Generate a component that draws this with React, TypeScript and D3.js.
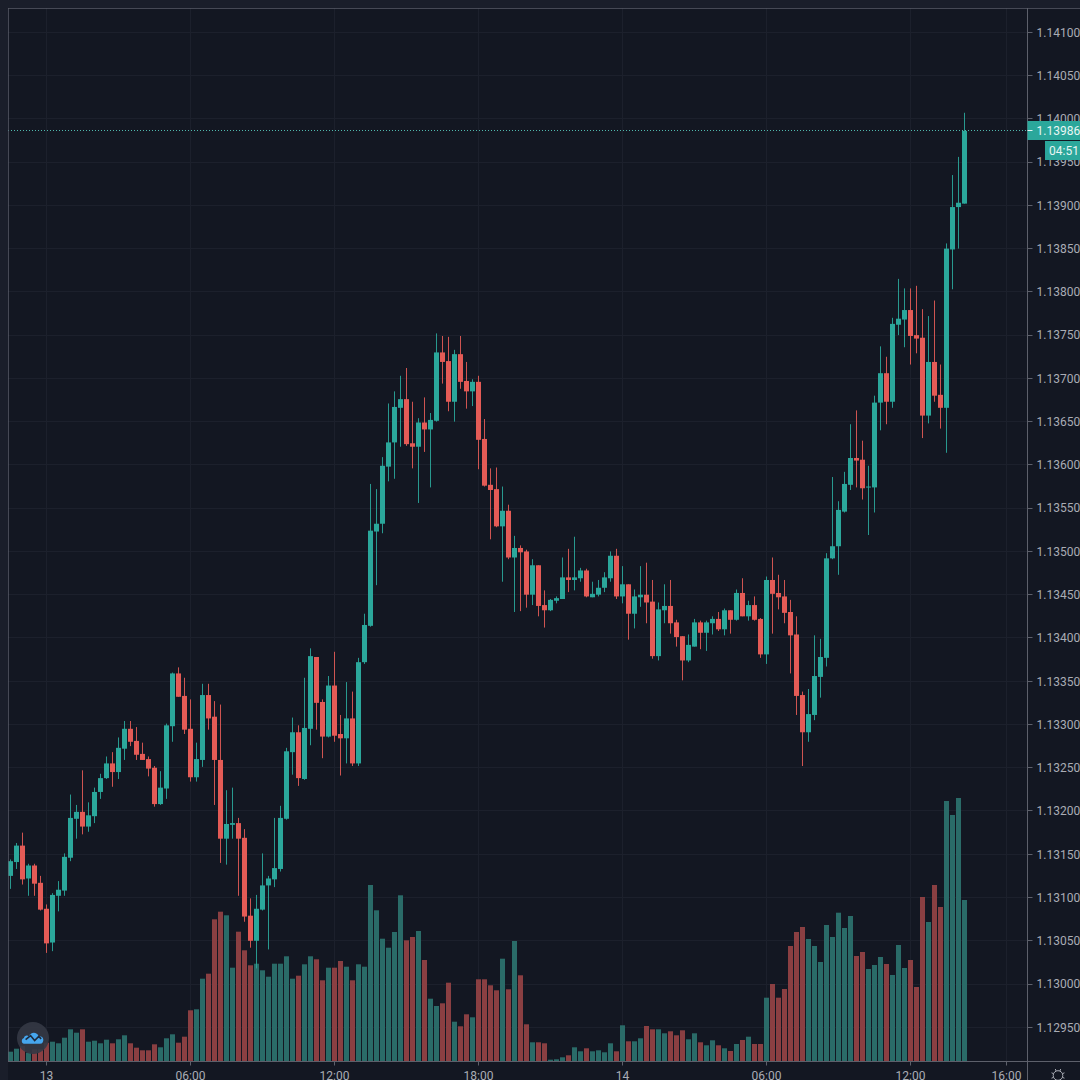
import React from "react";
import * as d3 from "d3";

// Prices are stored as points (0.00001) above this base.
const priceBase = 1.13;
const pointSize = 0.00001;

const opens = [
  125,141,160,122,137,117,87,48,102,108,
  146,191,199,182,194,222,238,255,245,272,
  295,281,266,260,250,208,226,298,359,333,
  295,239,259,334,309,259,168,184,186,169,
  79,50,86,114,121,133,191,268,291,237,
  295,378,326,286,345,289,284,307,255,372,
  414,523,532,598,626,666,676,625,621,649,
  641,651,730,720,673,728,697,685,696,630,
  577,572,529,547,493,504,500,450,484,438,
  432,443,445,470,467,469,478,447,450,458,
  469,495,448,462,428,447,450,442,379,432,
  437,418,402,374,390,418,406,417,422,410,
  432,421,452,425,438,422,381,467,452,448,
  430,404,334,291,311,355,377,492,506,546,
  577,608,606,574,574,672,706,673,762,768,
  779,750,747,657,719,681,666,849,898,902,
];
const closes = [
  142,160,121,137,116,86,47,103,109,147,
  192,199,182,195,222,238,255,245,273,295,
  280,265,259,249,208,227,299,359,332,294,
  239,260,334,307,259,168,185,186,168,78,
  50,87,114,122,134,192,269,291,238,296,
  379,325,286,345,287,284,307,255,372,415,
  524,532,599,626,667,676,624,621,649,641,
  652,730,719,673,728,696,685,696,629,576,
  571,529,547,493,504,499,450,484,437,432,
  444,446,470,467,470,478,448,451,458,470,
  495,448,462,428,448,450,441,379,433,437,
  417,401,374,392,418,406,418,422,410,432,
  421,452,425,438,421,381,467,451,447,429,
  403,333,291,312,356,378,492,506,548,578,
  608,605,573,575,672,706,673,763,769,779,
  749,746,657,719,680,666,850,898,903,986,
];
const highs = [
  144,163,175,139,139,125,92,105,119,151,
  219,207,247,210,227,243,263,268,285,304,
  304,297,279,263,252,246,301,360,366,354,
  329,279,347,347,327,323,224,227,192,179,
  99,103,151,125,192,206,273,308,299,354,
  388,378,329,356,384,311,349,338,377,428,
  578,572,609,671,685,703,712,673,654,678,
  660,752,749,748,733,749,719,699,703,653,
  596,597,575,554,518,507,502,491,484,455,
  445,448,493,503,517,481,480,465,467,476,
  500,503,483,462,456,483,487,467,441,462,
  467,421,402,404,422,420,420,425,430,434,
  432,456,469,443,448,423,471,493,473,467,
  444,425,338,341,403,399,498,586,558,592,
  647,663,628,599,680,737,725,770,815,804,
  804,807,780,772,790,716,856,935,956,1007,
];
const lows = [
  110,133,115,102,102,85,36,38,84,102,
  142,168,173,176,186,214,237,228,237,259,
  275,259,259,240,205,207,214,280,332,289,
  234,234,251,294,207,140,138,168,102,72,
  42,18,85,40,112,130,190,242,229,236,
  276,294,261,285,280,241,255,252,252,370,
  413,461,521,581,584,621,622,596,556,615,
  574,650,694,662,650,688,665,668,595,575,
  514,528,465,491,430,431,435,438,425,412,
  431,440,445,453,455,465,447,447,448,453,
  465,445,440,398,411,436,417,376,374,417,
  405,390,351,372,390,387,385,404,408,403,
  405,420,425,420,420,377,370,405,433,417,
  359,311,252,280,305,331,367,491,473,545,
  571,574,560,519,545,640,647,666,750,736,
  716,729,631,648,673,642,614,803,850,902,
];
const volumes = [
  9.3,12.3,15,8.3,11.7,11.7,18.3,19.3,17.7,23.3,
  31.7,28.3,31.7,19.3,20.3,17.7,21.3,17.7,21.7,25.7,
  17.7,13.3,10.7,10.7,16.7,13.7,22.7,26.7,18.3,24.3,
  50.7,51.7,82.3,87.3,141.7,149.3,145.7,93.3,129.3,110.7,
  95.7,97.3,90.7,84.3,97.3,97.3,104.7,82.3,85.3,96.7,
  104.7,101.7,80.7,93.3,93.3,100,94.3,80.7,96.7,94.3,
  176,150.7,122.3,113.3,129,165.7,120.7,124,130,101,
  62.3,55,57.7,78.3,39.3,34.7,46.7,43.7,81.7,81.7,
  75.7,70.7,102.3,71.7,120,85.7,36.7,18.7,18.7,17.7,
  1.3,1.7,3.7,5.7,13.7,9.7,12.7,9.7,10.7,8.7,
  17.7,9.7,35.7,19.7,19.7,22.7,35,31.7,31.7,27.7,
  29.7,25.7,30.7,21.7,27.7,18.7,15.7,20.7,15.7,12.7,
  10,17,21,24.3,17,17,63.3,77,63.3,72,
  115,129,134,122,115,99,136,124,148.3,133,
  145,105,109,92,96,104,97,86,116,93,
  101,74,164,139,176,154,260,246,263,161,
];

const priceTicks = [
  1.141,1.1405,1.14,1.1395,1.139,1.1385,1.138,1.1375,1.137,1.1365,1.136,1.1355,
  1.135,1.1345,1.134,1.1335,1.133,1.1325,1.132,1.1315,1.131,1.1305,1.13,1.1295,
];
const timeIndices = [6, 30, 54, 78, 102, 126, 150, 166];
const timeLabels = ["13", "06:00", "12:00", "18:00", "14", "06:00", "12:00", "16:00"];
const lastPrice = 1.13986;
const countdown = "04:51";

const UP = "#2ba79b";
const DOWN = "#e45b56";
const VOL_UP = "#2a6b68";
const VOL_DOWN = "#8a3f42";
const BG = "#131722";
const GRID = "#1c202c";
const AXIS = "#5d606b";
const TEXT = "#a9acb5";
const FONT = "Roboto, sans-serif";

const W = 1080;
const plotLeft = 8;
const plotTop = 8;
const plotRight = 1027.5;
const plotBottom = 1061.5;

const x = d3.scaleLinear().domain([0, 159]).range([10.5, 964.5]);
const y = d3.scaleLinear().domain([1.141, 1.1295]).range([32.3, 1027.3]);
const vy = d3.scaleLinear().domain([0, 263]).range([1061, 798]);
const price = (pts: number) => priceBase + pts * pointSize;

const crisp = (v: number) => Math.round(v - 0.5) + 0.5;

export default function App() {
  const gearAngles = d3.range(0, 360, 45);
  return (
    <svg
      width={W}
      height={W}
      viewBox={`0 0 ${W} ${W}`}
      style={{ position: "fixed", left: 0, top: 0, display: "block", background: "#1a1e2a" }}
    >
      <rect x={plotLeft} y={plotTop} width={W - plotLeft} height={W - plotTop} fill={BG} />

      {priceTicks.map((t) => (
        <line key={t} x1={plotLeft} x2={plotRight} y1={crisp(y(t))} y2={crisp(y(t))} stroke={GRID} />
      ))}
      {timeIndices.map((t) => (
        <line key={t} x1={x(t)} x2={x(t)} y1={plotTop} y2={plotBottom} stroke={GRID} />
      ))}

      {volumes.map((v, i) => (
        <rect
          key={i}
          x={x(i) - 2.5}
          width={5}
          y={vy(v)}
          height={vy(0) - vy(v)}
          fill={closes[i] >= opens[i] ? VOL_UP : VOL_DOWN}
        />
      ))}

      <line
        x1={plotLeft}
        x2={plotRight}
        y1={crisp(y(lastPrice))}
        y2={crisp(y(lastPrice))}
        stroke="#4fb8ad"
        strokeDasharray="1 2"
      />

      {opens.map((o, i) => {
        const c = closes[i];
        const color = c >= o ? UP : DOWN;
        const top = y(price(Math.max(o, c)));
        const bot = y(price(Math.min(o, c)));
        return (
          <g key={i}>
            <line x1={x(i)} x2={x(i)} y1={y(price(highs[i]))} y2={y(price(lows[i]))} stroke={color} strokeOpacity={0.9} />
            <rect x={x(i) - 2.5} width={5} y={top} height={Math.max(bot - top, 1)} fill={color} />
          </g>
        );
      })}

      <g transform="translate(33,1038)">
        <circle r={16} fill="#343844" fillOpacity={0.92} />
        <g transform="scale(0.82)">
          <path
            d="M-11 7 C-14 7 -15 1 -11 0 C-11 -3 -7 -4 -5 -2 C-3 -8 5 -8 7 -2 C11 -3 14 1 12 5 C11 7 10 7 9 7 Z"
            fill="#46a6ee"
          />
          <path d="M-9 2 L-3 -3 L2 3 L7 -2 L10 1" fill="none" stroke="#1e2a3c" strokeWidth={2} />
        </g>
      </g>

      <line x1={plotLeft + 0.5} x2={plotLeft + 0.5} y1={plotTop} y2={plotBottom} stroke={AXIS} strokeOpacity={0.7} />
      <line x1={plotLeft} x2={W} y1={plotTop + 0.5} y2={plotTop + 0.5} stroke={AXIS} strokeOpacity={0.7} />
      <line x1={plotRight} x2={plotRight} y1={plotTop} y2={W} stroke={AXIS} strokeWidth={1} />
      <line x1={plotLeft} x2={W} y1={plotBottom} y2={plotBottom} stroke={AXIS} strokeWidth={1} />

      {priceTicks.map((t) => (
        <g key={t}>
          <line x1={plotRight} x2={plotRight + 5} y1={crisp(y(t))} y2={crisp(y(t))} stroke={AXIS} />
          <text x={1036.5} y={y(t)} dy="0.36em" fontFamily={FONT} fontSize={12} fill={TEXT}>
            {t.toFixed(5)}
          </text>
        </g>
      ))}
      {timeIndices.map((t, i) => (
        <g key={t}>
          <line x1={x(t)} x2={x(t)} y1={plotBottom} y2={plotBottom + 4} stroke={AXIS} />
          <text x={x(t)} y={1080} textAnchor="middle" fontFamily={FONT} fontSize={12} fill={TEXT}>
            {timeLabels[i]}
          </text>
        </g>
      ))}

      <rect x={plotRight} y={121} width={W - plotRight} height={19} fill={UP} />
      <line x1={plotRight} x2={plotRight + 5} y1={crisp(y(lastPrice))} y2={crisp(y(lastPrice))} stroke="#e6f5f3" />
      <text x={1036.5} y={130.5} dy="0.36em" fontFamily={FONT} fontSize={12} fill="#e8f6f4">
        {lastPrice.toFixed(5)}
      </text>
      <rect x={1045} y={141} width={35} height={19} fill={UP} />
      <text x={1049} y={150.5} dy="0.36em" fontFamily={FONT} fontSize={12} fill="#e8f6f4">
        {countdown}
      </text>

      <g transform="translate(1058,1075.5)" stroke={TEXT} fill="none">
        <circle r={4.8} />
        {gearAngles.map((a) => {
          const r = (a + 22.5) * (Math.PI / 180);
          return (
            <line key={a} x1={Math.cos(r) * 4.8} y1={Math.sin(r) * 4.8} x2={Math.cos(r) * 7} y2={Math.sin(r) * 7} />
          );
        })}
      </g>
    </svg>
  );
}
